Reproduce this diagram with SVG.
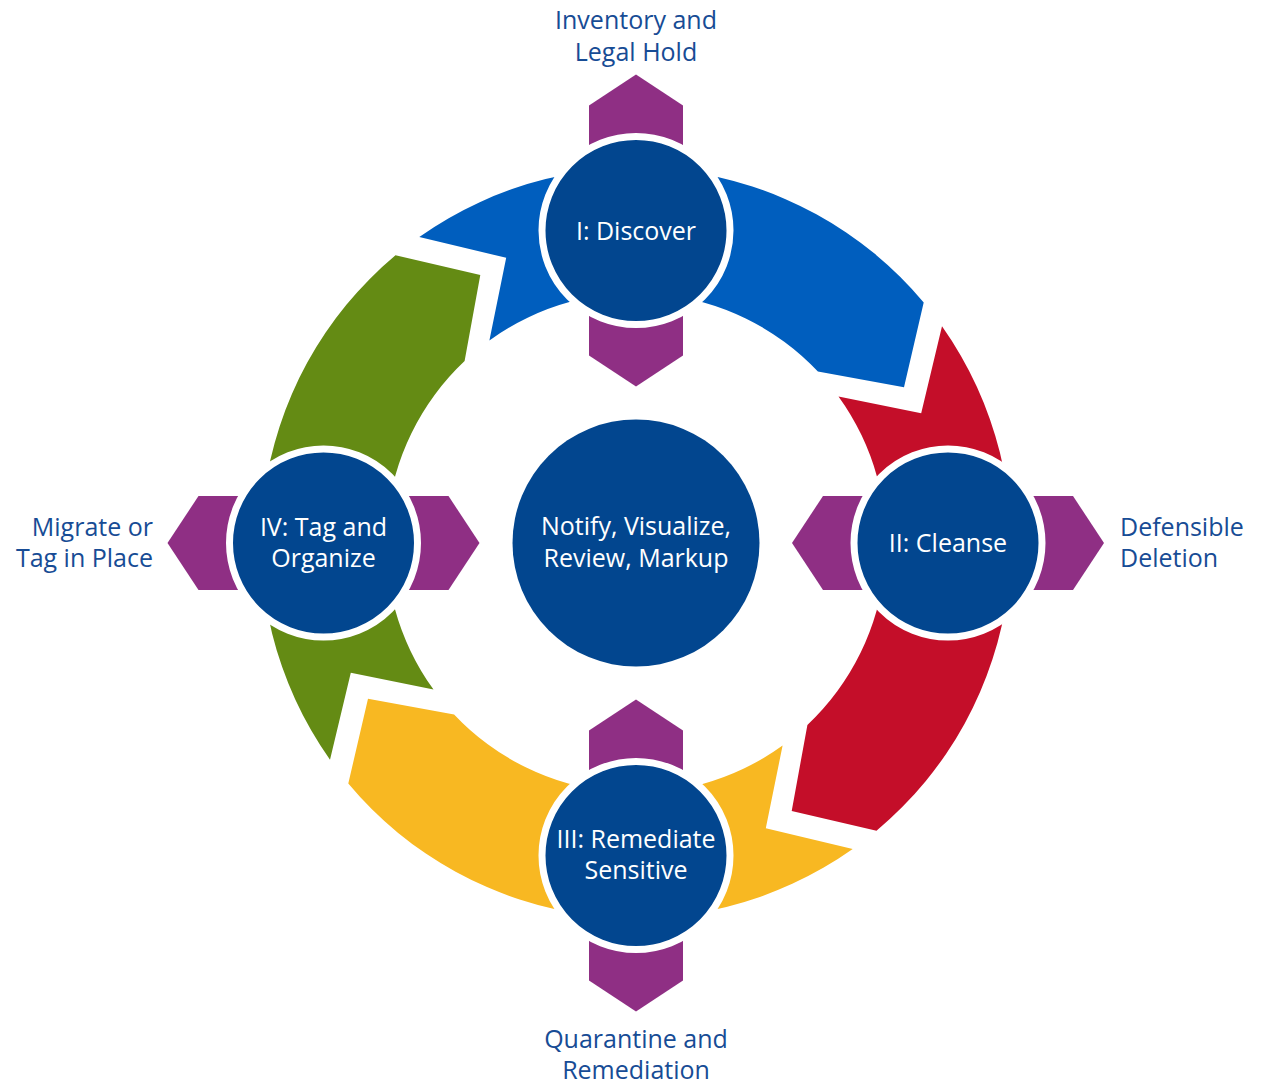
<svg xmlns="http://www.w3.org/2000/svg" width="1264" height="1086" viewBox="0 0 1264 1086">
<style>
  .node { fill: #02468F; stroke: #FFFFFF; stroke-width: 7; }
  .ntext { font-family: "Open Sans", "Noto Sans", sans-serif; font-size: 25px; fill: #FFFFFF; text-anchor: middle; }
  .label { font-family: "Open Sans", "Noto Sans", sans-serif; font-size: 25px; fill: #174C95; }
  .dbl { fill: #8F2F84; }
</style>
<defs>
  <path id="seg" d="M 419.3,237 L 506.2,257.8 L 489.4,340.5 A 250 250 0 0 1 817.9,371.6 L 904,387.3 L 923.7,302.5 A 375 375 0 0 0 419.3,237 Z"/>
  <polygon id="dblshape" points="-47,-125 0,-156 47,-125 47,125 0,156 -47,125"/>
</defs>
<g id="connectors">
  <use href="#seg" fill="#005EBE"/>
  <use href="#seg" fill="#C40E29" transform="rotate(90 636 543)"/>
  <use href="#seg" fill="#F8B822" transform="rotate(180 636 543)"/>
  <use href="#seg" fill="#648B14" transform="rotate(270 636 543)"/>
</g>
<g id="spokes">
  <use href="#dblshape" class="dbl" transform="translate(636 230.5)"/>
  <use href="#dblshape" class="dbl" transform="translate(948 543) rotate(90)"/>
  <use href="#dblshape" class="dbl" transform="translate(636 855.5)"/>
  <use href="#dblshape" class="dbl" transform="translate(323.5 543) rotate(90)"/>
</g>
<g id="center">
  <circle cx="636" cy="543" r="123.5" fill="#02468F"/>
  <text class="ntext" x="636" y="535">Notify, Visualize,</text>
  <text class="ntext" x="636" y="566.5">Review, Markup</text>
</g>
<g id="node-discover">
  <circle class="node" cx="636" cy="230.5" r="94"/>
  <text class="ntext" x="636" y="239.5">I: Discover</text>
</g>
<g id="node-cleanse">
  <circle class="node" cx="948" cy="543" r="94"/>
  <text class="ntext" x="948" y="551.5">II: Cleanse</text>
</g>
<g id="node-remediate">
  <circle class="node" cx="636" cy="855.5" r="94"/>
  <text class="ntext" x="636" y="847.5">III: Remediate</text>
  <text class="ntext" x="636" y="878.5">Sensitive</text>
</g>
<g id="node-tag">
  <circle class="node" cx="323.5" cy="543" r="94"/>
  <text class="ntext" x="323.5" y="535.5">IV: Tag and</text>
  <text class="ntext" x="323.5" y="567">Organize</text>
</g>
<g id="label-top">
  <text class="label" x="636" y="29" text-anchor="middle">Inventory and</text>
  <text class="label" x="636" y="60.5" text-anchor="middle">Legal Hold</text>
</g>
<g id="label-right">
  <text class="label" x="1120" y="535.5">Defensible</text>
  <text class="label" x="1120" y="567">Deletion</text>
</g>
<g id="label-bottom">
  <text class="label" x="636" y="1047.5" text-anchor="middle">Quarantine and</text>
  <text class="label" x="636" y="1078.5" text-anchor="middle">Remediation</text>
</g>
<g id="label-left">
  <text class="label" x="153" y="535.5" text-anchor="end">Migrate or</text>
  <text class="label" x="153" y="567" text-anchor="end">Tag in Place</text>
</g>
</svg>
